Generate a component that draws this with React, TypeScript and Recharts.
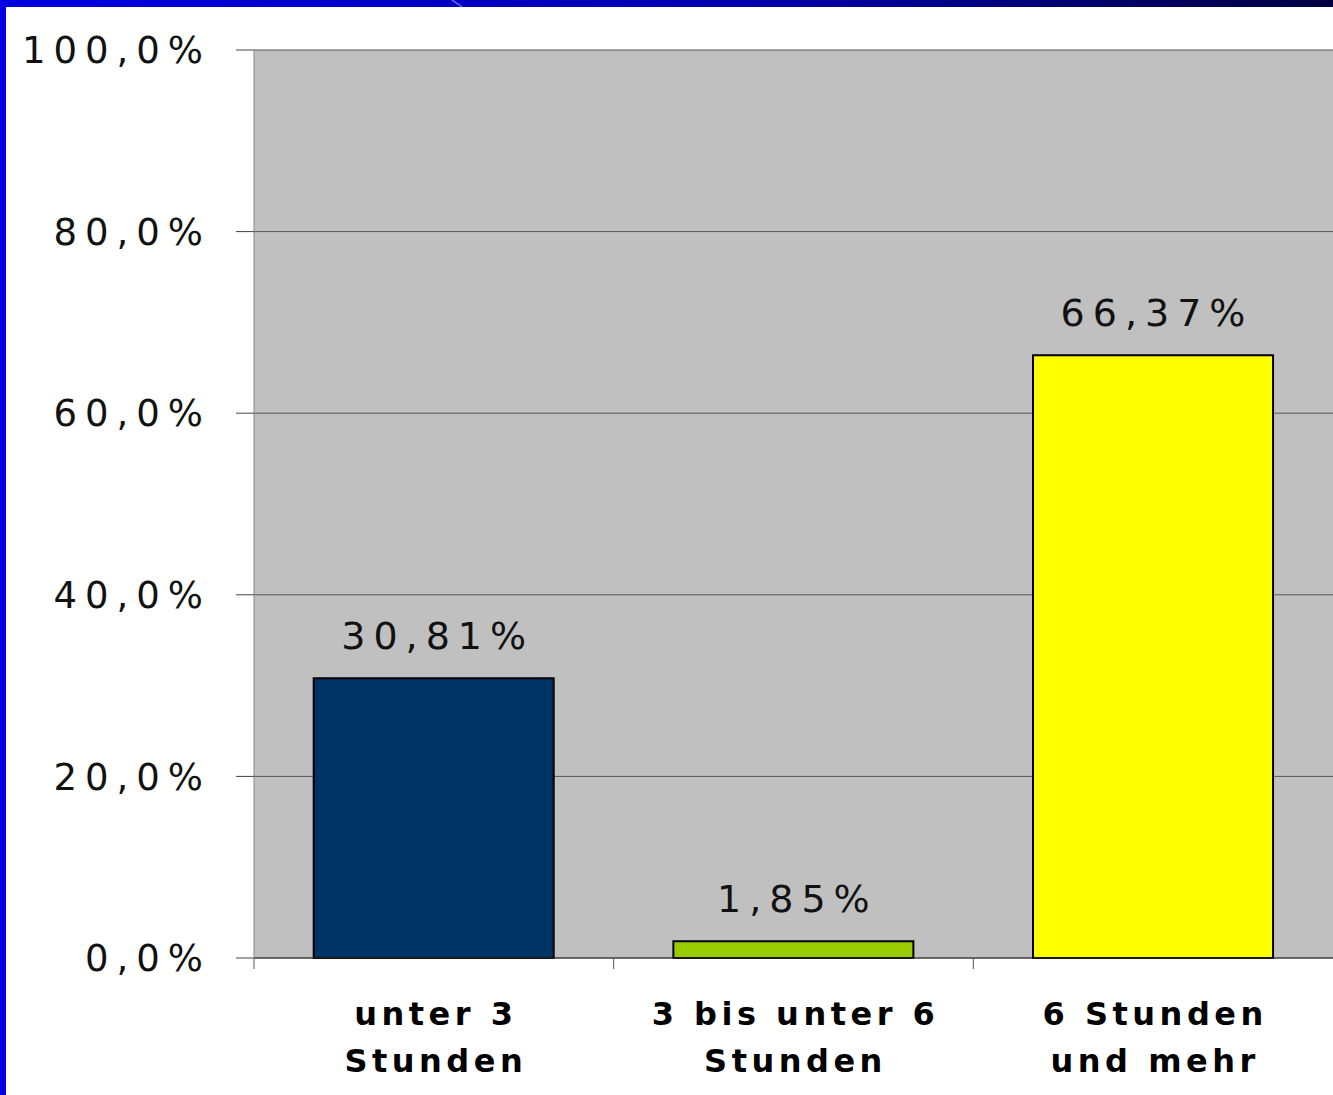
import React from "react";
import { Bar, BarChart, CartesianGrid, Cell, LabelList, XAxis, YAxis } from "recharts";

// Anteil nach täglicher Dauer
const categories = ["unter 3\nStunden", "3 bis unter 6\nStunden", "6 Stunden\nund mehr"];
const shares = [30.81, 1.85, 66.37];
const barColors = ["#003366", "#99cc00", "#ffff00"];
const yTicks = [0, 20, 40, 60, 80, 100];

const data = categories.map((name, i) => ({ name, value: shares[i] }));

const FONT = "'DejaVu Sans', sans-serif";

const pct1 = (v: number) => `${v.toFixed(1).replace(".", ",")}%`;
const pct2 = (v: number) => `${Number(v).toFixed(2).replace(".", ",")}%`;

function CategoryTick(props: any) {
  const { x, y, payload } = props;
  const half = payload?.offset ?? 180;
  const lines = String(payload.value).split("\n");
  return (
    <g>
      <line x1={x - half} x2={x - half} y1={y} y2={y + 11} stroke="#555" strokeWidth={1} />
      {lines.map((l, i) => (
        <text
          key={i}
          x={x + 2}
          y={y + 67 + i * 47}
          textAnchor="middle"
          fontFamily={FONT}
          fontWeight="bold"
          fontSize={32}
          letterSpacing={4.5}
          fill="#000"
        >
          {l}
        </text>
      ))}
    </g>
  );
}

export default function App() {
  return (
    <div style={{ position: "fixed", left: 0, top: 0, width: 1333, height: 1095, background: "#fff", overflow: "hidden" }}>
      <BarChart
        width={1333}
        height={1095}
        data={data}
        margin={{ top: 50, right: 0, bottom: 0, left: 0 }}
        barCategoryGap="16.6%"
      >
        <CartesianGrid vertical={false} fill="#c0c0c0" stroke="#555" strokeWidth={1} />
        <XAxis
          dataKey="name"
          height={137}
          axisLine={{ stroke: "#333", strokeWidth: 1 }}
          tickLine={false}
          tickSize={0}
          tickMargin={0}
          interval={0}
          tick={<CategoryTick />}
        />
        <YAxis
          width={254}
          domain={[0, 100]}
          ticks={yTicks}
          tickFormatter={pct1}
          axisLine={{ stroke: "#888", strokeWidth: 1 }}
          tickLine={{ stroke: "#444" }}
          tickSize={18}
          tickMargin={25}
          tick={{ fontFamily: FONT, fontSize: 37, letterSpacing: 8, fill: "#111" }}
        />
        <Bar dataKey="value" stroke="#000" strokeWidth={2} isAnimationActive={false}>
          {data.map((d, i) => (
            <Cell key={d.name} fill={barColors[i]} />
          ))}
          <LabelList
            dataKey="value"
            position="top"
            offset={29}
            formatter={pct2}
            style={{ fontFamily: FONT, fontSize: 38, letterSpacing: 8, fill: "#111", transform: "translateX(4px)" }}
          />
        </Bar>
      </BarChart>
      <div
        style={{
          position: "absolute",
          left: 0,
          top: 0,
          width: 1333,
          height: 7,
          background: "linear-gradient(to right, #0000e0, #0000b0 55%, #000040)",
        }}
      />
      <div style={{ position: "absolute", left: 0, top: 0, width: 6, height: 1095, background: "#0000e0" }} />
      <svg style={{ position: "absolute", left: 0, top: 0 }} width={1333} height={8}>
        <line x1={452} y1={0} x2={462} y2={7} stroke="#5a7dff" strokeWidth={1.5} />
      </svg>
    </div>
  );
}
